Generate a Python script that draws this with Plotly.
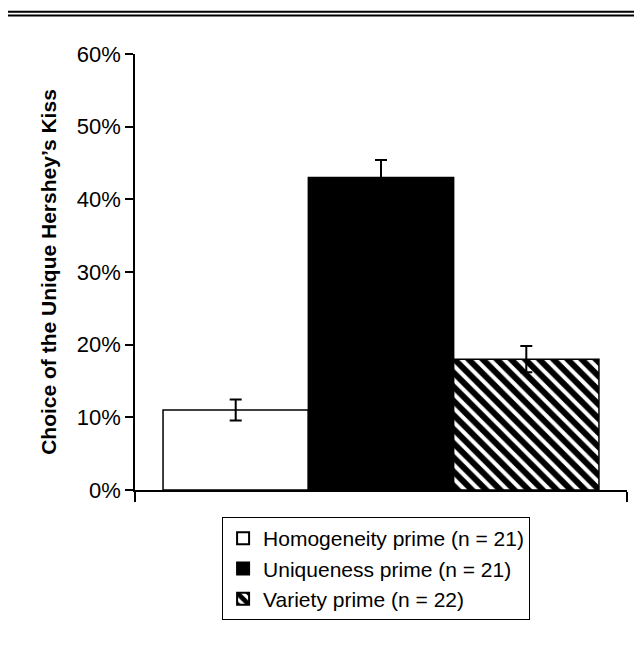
import plotly.graph_objects as go

# Data
conditions = ["Homogeneity prime (n = 21)", "Uniqueness prime (n = 21)", "Variety prime (n = 22)"]
values = [11.0, 43.0, 18.0]
errors = [1.45, 2.4, 1.8]
y_ticks = [0, 10, 20, 30, 40, 50, 60]
y_title = "Choice of the Unique Hershey’s Kiss"

fills = ["white", "black", "white"]
patterns = [dict(shape=""), dict(shape=""), dict(shape="\\", size=10, solidity=0.6, fgcolor="black", bgcolor="white", fillmode="replace")]

FONT = "Liberation Sans, Arial, Helvetica, sans-serif"

fig = go.Figure()
for name, v, e, c, p in zip(conditions, values, errors, fills, patterns):
    fig.add_trace(go.Bar(
        x=[""], y=[v], name=name,
        marker=dict(color=c, line=dict(color="black", width=1.5), pattern=p),
        error_y=dict(type="data", array=[e], visible=True, color="black", thickness=2, width=6),
    ))

L, T, PW, PH = 127, 46, 492, 436
fig.update_layout(
    width=634, height=646,
    margin=dict(l=L, r=634 - L - PW, t=T, b=646 - T - PH),
    paper_bgcolor="white", plot_bgcolor="white",
    barmode="group", bargap=0.114, bargroupgap=0,
    font=dict(family=FONT, size=21, color="black"),
    showlegend=True,
    legend=dict(
        x=0.177, y=-0.062, xanchor="left", yanchor="top",
        bordercolor="black", borderwidth=1,
        font=dict(family=FONT, size=21, color="black"),
        traceorder="normal", itemsizing="constant",
        tracegroupgap=0,
    ),
    xaxis=dict(
        type="category", showline=True, linecolor="black", linewidth=1.5,
        ticks="outside", tickson="boundaries", ticklen=10, tickcolor="black", tickwidth=1.5,
        showticklabels=False, showgrid=False, zeroline=False,
    ),
    yaxis=dict(
        range=[0, 60], tickvals=y_ticks, ticktext=[f"{t}%" for t in y_ticks],
        showline=True, linecolor="black", linewidth=1.5,
        ticks="outside", ticklen=8, tickcolor="black", tickwidth=1.5,
        showgrid=False, zeroline=False,
        tickfont=dict(family=FONT, size=22, color="black"),
        title=dict(text=f"<b>{y_title}</b>", font=dict(family=FONT, size=21, color="black"), standoff=14),
    ),
    shapes=[
        dict(type="line", xref="paper", yref="paper", x0=-L / PW, x1=(634 - L) / PW,
             y0=1 + (T - 3.8) / PH, y1=1 + (T - 3.8) / PH, line=dict(color="black", width=2)),
        dict(type="line", xref="paper", yref="paper", x0=-L / PW, x1=(634 - L) / PW,
             y0=1 + (T - 7.5) / PH, y1=1 + (T - 7.5) / PH, line=dict(color="black", width=2)),
    ],
)

fig.write_html("out.html")
